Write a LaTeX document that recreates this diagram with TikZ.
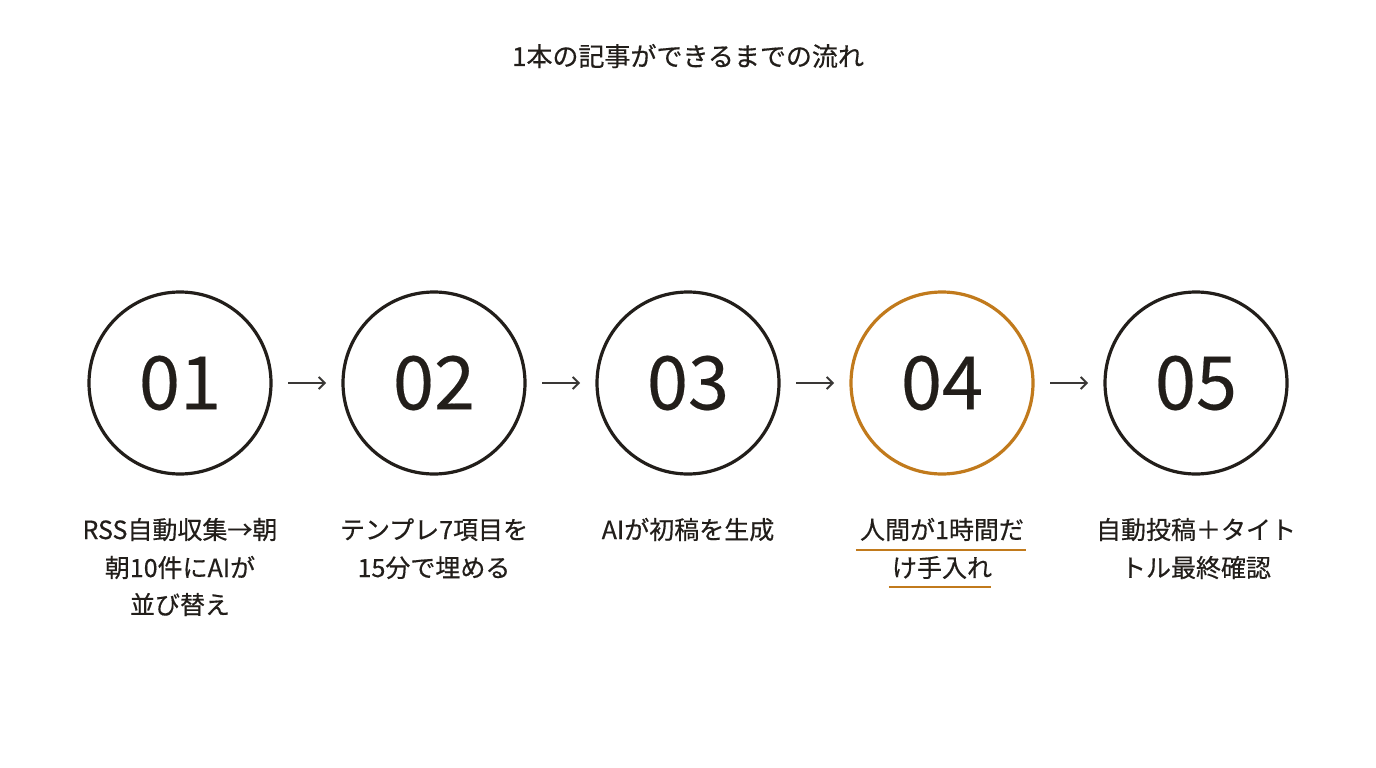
\documentclass[tikz,border=0pt]{standalone}
\usepackage{fontspec}
\setmainfont{Noto Sans CJK JP}
\newfontfamily\medfont[FakeBold=0.45]{Noto Sans CJK JP}
\newfontfamily\numfont[FakeBold=0.25]{Noto Sans CJK JP}
\usetikzlibrary{arrows.meta}
\definecolor{ink}{HTML}{221E1A}
\definecolor{accent}{HTML}{C17A1C}
\definecolor{arrowgray}{HTML}{3A3836}
\begin{document}
\begin{tikzpicture}[x=1pt,y=-1pt,
  stepcirc/.style={circle, draw=ink, line width=3.2pt, minimum size=182pt, inner sep=0pt,
    text=ink, font=\numfont\fontsize{74}{74}\selectfont},
  hlcirc/.style={stepcirc, draw=accent},
  steplabel/.style={anchor=base, inner sep=0pt, text=ink, font=\medfont\fontsize{25}{25}\selectfont},
  flowarrow/.style={draw=arrowgray, line width=1.8pt, -{Straight Barb[length=6pt,width=12pt,line width=1.8pt]}},
  uline/.style={draw=accent, line width=2.8pt}
]
\fill[white] (0,0) rectangle (1376,768);
\useasboundingbox (0,0) rectangle (1376,768);

\node[anchor=base, inner sep=0pt, text=ink, font=\medfont\fontsize{26}{26}\selectfont] (title) at (688,66) {1本の記事ができるまでの流れ};

\node[stepcirc] (c1) at (180,383) {01};
\node[stepcirc] (c2) at (434,383) {02};
\node[stepcirc] (c3) at (688,383) {03};
\node[hlcirc]   (c4) at (942,383) {04};
\node[stepcirc] (c5) at (1196,383) {05};

\coordinate (a1s) at (288,383); \coordinate (a1e) at (326,383);
\coordinate (a2s) at (542,383); \coordinate (a2e) at (580,383);
\coordinate (a3s) at (796,383); \coordinate (a3e) at (834,383);
\coordinate (a4s) at (1050,383); \coordinate (a4e) at (1088,383);
\draw[flowarrow] (a1s) -- (a1e);
\draw[flowarrow] (a2s) -- (a2e);
\draw[flowarrow] (a3s) -- (a3e);
\draw[flowarrow] (a4s) -- (a4e);

\node[steplabel] (l1a) at (180,539) {RSS自動収集→朝};
\node[steplabel] (l1b) at (180,577) {朝10件にAIが};
\node[steplabel] (l1c) at (180,614) {並び替え};

\node[steplabel] (l2a) at (434,539) {テンプレ7項目を};
\node[steplabel] (l2b) at (434,577) {15分で埋める};

\node[steplabel] (l3a) at (688,539) {AIが初稿を生成};

\node[steplabel] (l4a) at (942,539) {人間が1時間だ};
\node[steplabel] (l4b) at (942,577) {け手入れ};
\draw[uline] ([xshift=-4pt,yshift=-11pt]l4a.base west) -- ([xshift=2pt,yshift=-11pt]l4a.base east);
\draw[uline] ([xshift=-3pt,yshift=-10pt]l4b.base west) -- ([xshift=-1pt,yshift=-10pt]l4b.base east);

\node[steplabel] (l5a) at (1196,539) {自動投稿＋タイト};
\node[steplabel] (l5b) at (1196,577) {トル最終確認};
\end{tikzpicture}
\end{document}
